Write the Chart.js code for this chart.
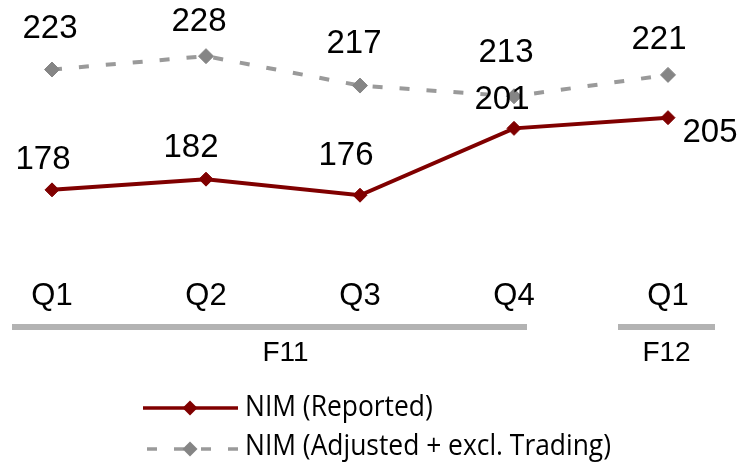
<!DOCTYPE html>
<html>
<head>
<meta charset="utf-8">
<script src="https://cdn.jsdelivr.net/npm/chart.js@4"></script>
<style>
  html, body { margin: 0; padding: 0; background: #ffffff; }
  #chart { display: block; }
</style>
</head>
<body>
<canvas id="chart" width="742" height="464"></canvas>
<script>
(function() {
  'use strict';

  // data
  var quarters = ['Q1', 'Q2', 'Q3', 'Q4', 'Q1'];
  var years = [
    { label: 'F11', from: 0, to: 3 },
    { label: 'F12', from: 4, to: 4 }
  ];
  var nimReported = [178, 182, 176, 201, 205];
  var nimAdjusted = [223, 228, 217, 213, 221];
  var seriesNames = ['NIM (Reported)', 'NIM (Adjusted + excl. Trading)'];

  var RED  = '#800000';
  var GREY_LINE = '#9a9a9a';
  var GREY_MARK = '#858585';
  var BAR_GREY = '#b3b3b3';

  var FONT_ARIAL = "'Liberation Sans', Arial, sans-serif";
  var FONT_LEGEND = "'Open Sans', sans-serif";

  // label nudges (px) relative to each point
  var redOffsets  = [[-9, -30], [-15, -31], [-14, -39], [-12, -28], [42, 15]];
  var greyOffsets = [[-2, -41], [-7, -34], [-6, -42], [-8, -43], [-9, -35]];

  var overlay = {
    id: 'overlay',
    afterDatasetsDraw: function(chart) {
      var c = chart.ctx;
      var x = chart.scales.x;
      c.save();

      // point value labels
      c.fillStyle = '#000000';
      c.font = '33px ' + FONT_ARIAL;
      c.textAlign = 'center';
      c.textBaseline = 'middle';
      [[1, greyOffsets], [0, redOffsets]].forEach(function(pair) {
        var meta = chart.getDatasetMeta(pair[0]);
        var vals = chart.data.datasets[pair[0]].data;
        meta.data.forEach(function(pt, i) {
          c.fillText(String(vals[i]), pt.x + pair[1][i][0], pt.y + pair[1][i][1]);
        });
      });

      // quarter labels
      c.font = '31px ' + FONT_ARIAL;
      quarters.forEach(function(q, i) {
        c.fillText(q, x.getPixelForValue(i), 296);
      });

      // year bars + labels
      c.font = '28px ' + FONT_ARIAL;
      years.forEach(function(y) {
        var x0 = x.getPixelForValue(y.from);
        var x1 = x.getPixelForValue(y.to);
        var left = y.from === 0 ? x0 - 40 : x0 - 50;
        var right = y.to === 4 ? x1 + 47 : x1 + 13;
        c.fillStyle = BAR_GREY;
        c.fillRect(left, 324, right - left, 6);
        c.fillStyle = '#000000';
        c.fillText(y.label, (left + right) / 2 + 16 * (y.from === 0 ? 1 : 0), 353);
      });

      // legend
      function diamond(cx, cy, r, col) {
        c.fillStyle = col;
        c.beginPath();
        c.moveTo(cx, cy - r);
        c.lineTo(cx + r, cy);
        c.lineTo(cx, cy + r);
        c.lineTo(cx - r, cy);
        c.closePath();
        c.fill();
      }
      c.lineWidth = 3.5;
      c.strokeStyle = RED;
      c.beginPath();
      c.moveTo(143, 408);
      c.lineTo(238, 408);
      c.stroke();
      diamond(190, 408, 7.5, RED);

      c.strokeStyle = GREY_LINE;
      c.setLineDash([10, 17]);
      c.lineDashOffset = -2;
      c.beginPath();
      c.moveTo(145, 449);
      c.lineTo(238, 449);
      c.stroke();
      c.setLineDash([]);
      diamond(190, 449, 7.5, GREY_MARK);

      // legend text: slightly condensed
      c.fillStyle = '#000000';
      c.font = '30px ' + FONT_LEGEND;
      c.textAlign = 'left';
      c.save();
      c.translate(245, 0);
      c.scale(0.88, 1);
      c.fillText(seriesNames[0], 0, 407);
      c.fillText(seriesNames[1], 0, 446);
      c.restore();

      c.restore();
    }
  };

  new Chart(document.getElementById('chart'), {
    type: 'line',
    data: {
      labels: quarters,
      datasets: [
        {
          label: seriesNames[0],
          data: nimReported,
          borderColor: RED,
          backgroundColor: RED,
          borderWidth: 4,
          pointStyle: 'rectRot',
          pointRadius: 7,
          pointBackgroundColor: RED,
          pointBorderColor: RED,
          pointBorderWidth: 1,
          tension: 0,
          clip: false,
          order: 0
        },
        {
          label: seriesNames[1],
          data: nimAdjusted,
          borderColor: GREY_LINE,
          backgroundColor: GREY_MARK,
          borderWidth: 4,
          borderDash: [10, 17],
          pointStyle: 'rectRot',
          pointRadius: 7.5,
          pointBackgroundColor: GREY_MARK,
          pointBorderColor: GREY_MARK,
          pointBorderWidth: 1,
          tension: 0,
          clip: false,
          order: 1
        }
      ]
    },
    options: {
      responsive: false,
      animation: false,
      devicePixelRatio: 1,
      layout: { autoPadding: false, padding: { left: 52, right: 74, top: 0, bottom: 226 } },
      plugins: {
        legend: { display: false },
        tooltip: { enabled: false }
      },
      scales: {
        x: { display: false, offset: false },
        y: { display: false, min: 160, max: 249 }
      }
    },
    plugins: [overlay]
  });
})();
</script>
</body>
</html>
